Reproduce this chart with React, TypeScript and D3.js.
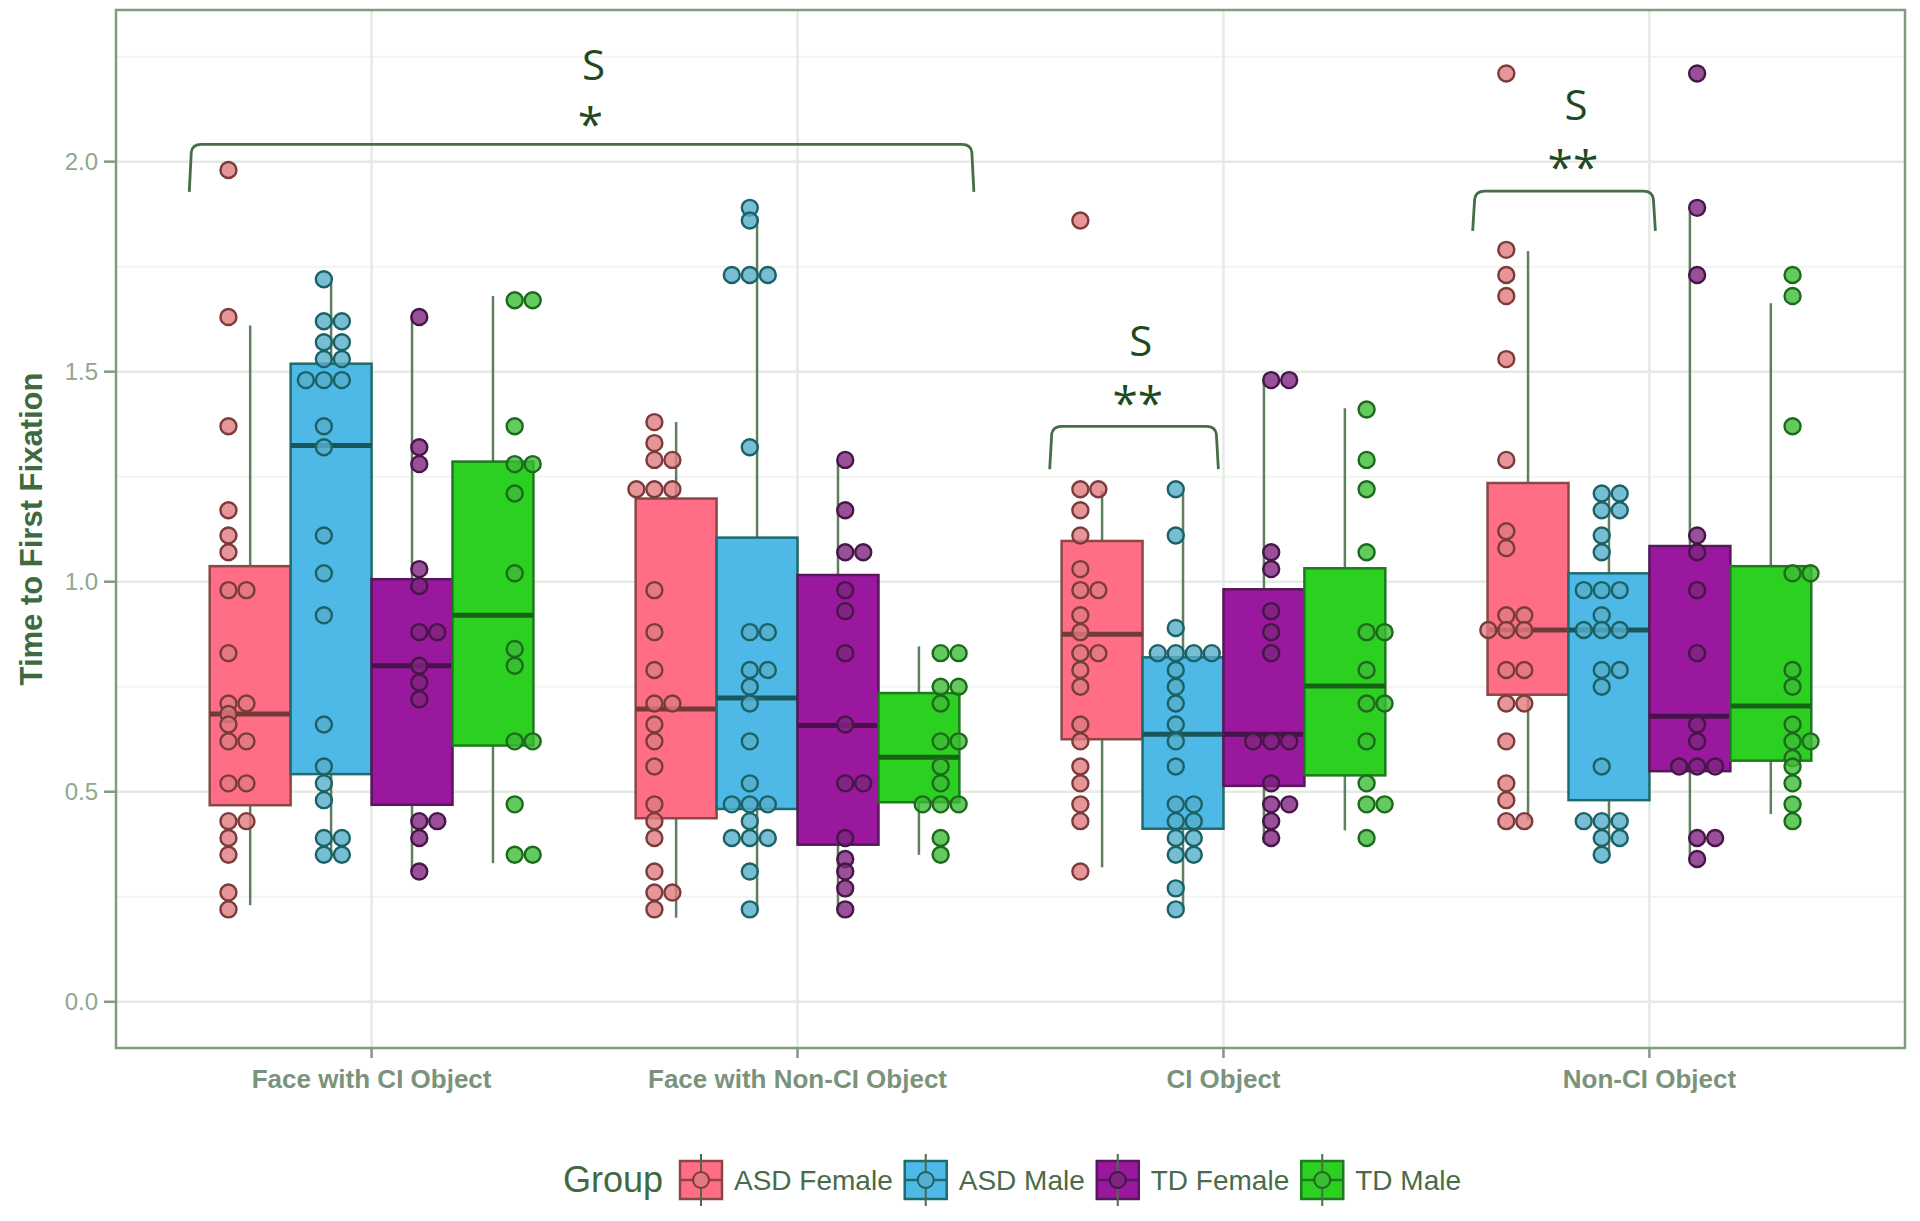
import React, { useEffect, useRef } from "react";
import * as d3 from "d3";

const categories = ["Face with CI Object", "Face with Non-CI Object", "CI Object", "Non-CI Object"];
const groups = ["ASD Female", "ASD Male", "TD Female", "TD Male"];

// individual observations per category (dot plot)
const asdFemaleValues = [
  [1.98, 1.63, 1.37, 1.17, 1.11, 1.07, 0.98, 0.98, 0.83, 0.71, 0.71, 0.685, 0.66, 0.62, 0.62, 0.52, 0.52, 0.43, 0.43, 0.39, 0.35, 0.26, 0.22],
  [1.38, 1.33, 1.29, 1.29, 1.22, 1.22, 1.22, 0.98, 0.88, 0.79, 0.71, 0.71, 0.66, 0.62, 0.56, 0.47, 0.43, 0.39, 0.31, 0.26, 0.26, 0.22],
  [1.86, 1.22, 1.22, 1.17, 1.11, 1.03, 0.98, 0.98, 0.92, 0.88, 0.83, 0.83, 0.79, 0.75, 0.66, 0.62, 0.56, 0.52, 0.47, 0.43, 0.31],
  [2.21, 1.79, 1.73, 1.68, 1.53, 1.29, 1.12, 1.08, 0.92, 0.92, 0.885, 0.885, 0.885, 0.79, 0.79, 0.71, 0.71, 0.62, 0.52, 0.48, 0.43, 0.43],
];
const asdMaleValues = [
  [1.72, 1.62, 1.62, 1.57, 1.57, 1.53, 1.53, 1.48, 1.48, 1.48, 1.37, 1.32, 1.11, 1.02, 0.92, 0.66, 0.56, 0.52, 0.48, 0.39, 0.39, 0.35, 0.35],
  [1.89, 1.86, 1.73, 1.73, 1.73, 1.32, 0.88, 0.88, 0.79, 0.79, 0.75, 0.71, 0.62, 0.52, 0.47, 0.47, 0.47, 0.43, 0.39, 0.39, 0.39, 0.31, 0.22],
  [1.22, 1.11, 0.89, 0.83, 0.83, 0.83, 0.83, 0.79, 0.75, 0.71, 0.66, 0.62, 0.56, 0.47, 0.47, 0.43, 0.43, 0.39, 0.39, 0.35, 0.35, 0.27, 0.22],
  [1.21, 1.21, 1.17, 1.17, 1.11, 1.07, 0.98, 0.98, 0.98, 0.92, 0.885, 0.885, 0.885, 0.79, 0.79, 0.75, 0.56, 0.43, 0.43, 0.43, 0.39, 0.39, 0.35],
];
const tdFemaleValues = [
  [1.63, 1.32, 1.28, 1.03, 0.99, 0.88, 0.88, 0.8, 0.76, 0.72, 0.43, 0.43, 0.39, 0.31],
  [1.29, 1.17, 1.07, 1.07, 0.98, 0.93, 0.83, 0.66, 0.52, 0.52, 0.39, 0.34, 0.31, 0.27, 0.22],
  [1.48, 1.48, 1.07, 1.03, 0.93, 0.88, 0.83, 0.62, 0.62, 0.62, 0.52, 0.47, 0.47, 0.43, 0.39],
  [2.21, 1.89, 1.73, 1.11, 1.07, 0.98, 0.83, 0.66, 0.62, 0.56, 0.56, 0.56, 0.39, 0.39, 0.34],
];
const tdMaleValues = [
  [1.67, 1.67, 1.37, 1.28, 1.28, 1.21, 1.02, 0.84, 0.8, 0.62, 0.62, 0.47, 0.35, 0.35],
  [0.83, 0.83, 0.75, 0.75, 0.71, 0.62, 0.62, 0.56, 0.52, 0.47, 0.47, 0.47, 0.39, 0.35],
  [1.41, 1.29, 1.22, 1.07, 0.88, 0.88, 0.79, 0.71, 0.71, 0.62, 0.52, 0.47, 0.47, 0.39],
  [1.73, 1.68, 1.37, 1.02, 1.02, 0.79, 0.75, 0.66, 0.62, 0.62, 0.58, 0.56, 0.52, 0.47, 0.43],
];

// box statistics per category: [lower whisker, q1, median, q3, upper whisker]
const asdFemaleStats = [
  [0.23, 0.468, 0.685, 1.037, 1.61],
  [0.2, 0.437, 0.697, 1.198, 1.38],
  [0.32, 0.625, 0.875, 1.097, 1.216],
  [0.433, 0.731, 0.885, 1.235, 1.787],
];
const asdMaleStats = [
  [0.35, 0.542, 1.324, 1.519, 1.71],
  [0.22, 0.459, 0.723, 1.105, 1.87],
  [0.22, 0.412, 0.637, 0.82, 1.21],
  [0.35, 0.48, 0.885, 1.02, 1.21],
];
const tdFemaleStats = [
  [0.31, 0.469, 0.8, 1.006, 1.63],
  [0.22, 0.374, 0.658, 1.016, 1.285],
  [0.378, 0.514, 0.637, 0.982, 1.48],
  [0.344, 0.549, 0.68, 1.085, 1.88],
];
const tdMaleStats = [
  [0.33, 0.61, 0.92, 1.286, 1.68],
  [0.35, 0.475, 0.582, 0.735, 0.846],
  [0.408, 0.539, 0.752, 1.032, 1.413],
  [0.447, 0.574, 0.704, 1.037, 1.663],
];

const yTicks = [0, 0.5, 1.0, 1.5, 2.0];
const yMinorTicks = [0.25, 0.75, 1.25, 1.75, 2.25];

// significance brackets: start category, start offset, end category, end offset, top value, leg value, stars
const bracketStart = [0, 2, 3];
const bracketStartOffset = [-0.428, -0.408, -0.415];
const bracketEnd = [1, 2, 3];
const bracketEndOffset = [0.414, -0.012, 0.014];
const bracketTop = [2.041, 1.37, 1.93];
const bracketLeg = [1.928, 1.268, 1.835];
const bracketStars = ["*", "**", "**"];
const bracketSLabelY = [2.194, 1.537, 2.099];
const bracketStarY = [2.106, 1.442, 2.003];
const bracketLabelShift = [0.028, 0.016, 0.028];

const fills = ["#FF6E86", "#4EB8E6", "#9A189E", "#2CD020"];
const strokes = ["#8A4845", "#1F6B6D", "#55185A", "#1E7A1E"];
const dotFills = ["#E07A80", "#55AECB", "#7E2580", "#3DBB36"];
const dotStrokes = ["#7A3B3B", "#1B6266", "#461648", "#1C6A1C"];

const valuesByGroup = [asdFemaleValues, asdMaleValues, tdFemaleValues, tdMaleValues];
const statsByGroup = [asdFemaleStats, asdMaleStats, tdFemaleStats, tdMaleStats];

export default function App() {
  const ref = useRef<SVGSVGElement | null>(null);

  useEffect(() => {
    const svg = d3.select(ref.current);
    svg.selectAll("*").remove();

    const left = 116, right = 1905, top = 10, bottom = 1048;
    const x = d3.scalePoint<string>().domain(categories).range([left, right]).padding(0.6);
    const step = x.step();
    const y = d3.scaleLinear().domain([-0.11, 2.361]).range([bottom, top]);

    const boxW = 0.19 * step;
    const dotDodge = 0.224 * step;
    const dotR = 8;
    const dotD = 18;

    const gridG = svg.append("g");
    yMinorTicks.forEach((t) => {
      gridG.append("line").attr("x1", left).attr("x2", right).attr("y1", y(t)).attr("y2", y(t))
        .attr("stroke", "#f1f4f1").attr("stroke-width", 2);
    });
    yTicks.forEach((t) => {
      gridG.append("line").attr("x1", left).attr("x2", right).attr("y1", y(t)).attr("y2", y(t))
        .attr("stroke", "#e5eae5").attr("stroke-width", 2.5);
    });
    categories.forEach((c) => {
      gridG.append("line").attr("x1", x(c)!).attr("x2", x(c)!).attr("y1", top).attr("y2", bottom)
        .attr("stroke", "#e5eae5").attr("stroke-width", 2.5);
    });

    const plotG = svg.append("g");
    categories.forEach((c, ci) => {
      const cx = x(c)!;
      groups.forEach((g, gi) => {
        const [lo, q1, med, q3, hi] = statsByGroup[gi][ci];
        const bx = cx + (gi - 1.5) * boxW;
        plotG.append("line").attr("x1", bx).attr("x2", bx).attr("y1", y(hi)).attr("y2", y(q3))
          .attr("stroke", "#5f805f").attr("stroke-width", 2.5);
        plotG.append("line").attr("x1", bx).attr("x2", bx).attr("y1", y(q1)).attr("y2", y(lo))
          .attr("stroke", "#5f805f").attr("stroke-width", 2.5);
        plotG.append("rect").attr("x", bx - boxW / 2).attr("width", boxW)
          .attr("y", y(q3)).attr("height", y(q1) - y(q3))
          .attr("fill", fills[gi]).attr("stroke", strokes[gi]).attr("stroke-width", 2.5);
        plotG.append("line").attr("x1", bx - boxW / 2).attr("x2", bx + boxW / 2)
          .attr("y1", y(med)).attr("y2", y(med))
          .attr("stroke", d3.color(strokes[gi])!.darker(0.6).formatHex()).attr("stroke-width", 5);
      });
    });

    const dotG = svg.append("g");
    categories.forEach((c, ci) => {
      const cx = x(c)!;
      groups.forEach((g, gi) => {
        const colX = cx + (gi - 1.5) * dotDodge;
        const vals = valuesByGroup[gi][ci];
        const bins = d3.group(vals, (v) => v.toFixed(3));
        bins.forEach((arr) => {
          const n = arr.length;
          const shift = Math.floor((n - 1) / 2);
          arr.forEach((v, k) => {
            dotG.append("circle")
              .attr("cx", colX + (k - shift) * dotD)
              .attr("cy", y(v))
              .attr("r", dotR)
              .attr("fill", dotFills[gi])
              .attr("fill-opacity", 0.8)
              .attr("stroke", dotStrokes[gi])
              .attr("stroke-width", 2.4);
          });
        });
      });
    });

    // brackets
    const annG = svg.append("g");
    bracketStart.forEach((s, i) => {
      const x0 = x(categories[s])! + bracketStartOffset[i] * step;
      const x1 = x(categories[bracketEnd[i]])! + bracketEndOffset[i] * step;
      const yt = y(bracketTop[i]);
      const yl = y(bracketLeg[i]);
      const p = d3.path();
      p.moveTo(x0, yl);
      p.lineTo(x0 + 2, yt + 8);
      p.quadraticCurveTo(x0 + 3, yt, x0 + 12, yt);
      p.lineTo(x1 - 12, yt);
      p.quadraticCurveTo(x1 - 3, yt, x1 - 2, yt + 8);
      p.lineTo(x1, yl);
      annG.append("path").attr("d", p.toString()).attr("fill", "none")
        .attr("stroke", "#466e46").attr("stroke-width", 2.8);
      const mx = (x0 + x1) / 2 + bracketLabelShift[i] * step;
      annG.append("text").attr("x", mx).attr("y", y(bracketSLabelY[i]))
        .attr("text-anchor", "middle").attr("font-family", "'Open Sans', sans-serif")
        .attr("font-size", 42).attr("fill", "#1f4a1f").text("S");
      annG.append("text").attr("x", mx - 3).attr("y", y(bracketStarY[i]) + 24)
        .attr("text-anchor", "middle").attr("font-family", "'Open Sans', sans-serif")
        .attr("font-size", 46).attr("fill", "#1f4a1f").text(bracketStars[i]);
    });

    // panel border
    svg.append("rect").attr("x", left).attr("y", top).attr("width", right - left).attr("height", bottom - top)
      .attr("fill", "none").attr("stroke", "#7f9c7f").attr("stroke-width", 2.5);

    // axes
    const axG = svg.append("g");
    yTicks.forEach((t) => {
      axG.append("line").attr("x1", left - 12).attr("x2", left).attr("y1", y(t)).attr("y2", y(t))
        .attr("stroke", "#7f9c7f").attr("stroke-width", 2.5);
      axG.append("text").attr("x", left - 18).attr("y", y(t) + 8.5).attr("text-anchor", "end")
        .attr("font-family", "'Liberation Sans', Arial, sans-serif").attr("font-size", 24)
        .attr("fill", "#8ea78e").text(t.toFixed(1));
    });
    categories.forEach((c) => {
      axG.append("line").attr("x1", x(c)!).attr("x2", x(c)!).attr("y1", bottom).attr("y2", bottom + 10)
        .attr("stroke", "#7f9c7f").attr("stroke-width", 2.5);
      axG.append("text").attr("x", x(c)!).attr("y", 1088).attr("text-anchor", "middle")
        .attr("font-family", "'Liberation Sans', Arial, sans-serif").attr("font-size", 26)
        .attr("font-weight", "bold").attr("fill", "#7a937a").text(c);
    });
    axG.append("text").attr("transform", "translate(42,529) rotate(-90)").attr("text-anchor", "middle")
      .attr("font-family", "'Liberation Sans', Arial, sans-serif").attr("font-size", 31)
      .attr("font-weight", "bold").attr("fill", "#3f6a3f").text("Time to First Fixation");

    // legend
    const legG = svg.append("g");
    const ly = 1180;
    legG.append("text").attr("x", 563).attr("y", ly + 12)
      .attr("font-family", "'Liberation Sans', Arial, sans-serif").attr("font-size", 36)
      .attr("fill", "#3f6a3f").text("Group");
    let lx = 680;
    groups.forEach((g, gi) => {
      const kw = 42, kh = 38;
      legG.append("rect").attr("x", lx).attr("y", ly - kh / 2).attr("width", kw).attr("height", kh)
        .attr("fill", fills[gi]).attr("stroke", strokes[gi]).attr("stroke-width", 2.5);
      legG.append("line").attr("x1", lx + kw / 2).attr("x2", lx + kw / 2).attr("y1", ly - kh / 2 - 7).attr("y2", ly + kh / 2 + 7)
        .attr("stroke", "#4a6a4a").attr("stroke-width", 2);
      legG.append("line").attr("x1", lx).attr("x2", lx + kw).attr("y1", ly).attr("y2", ly)
        .attr("stroke", strokes[gi]).attr("stroke-width", 2.5);
      legG.append("circle").attr("cx", lx + kw / 2).attr("cy", ly).attr("r", 8)
        .attr("fill", dotFills[gi]).attr("stroke", dotStrokes[gi]).attr("stroke-width", 2);
      const t = legG.append("text").attr("x", lx + kw + 12).attr("y", ly + 10)
        .attr("font-family", "'Liberation Sans', Arial, sans-serif").attr("font-size", 28)
        .attr("fill", "#4a6b4a").text(g);
      const tw = (t.node() as SVGTextElement).getComputedTextLength();
      lx = lx + kw + 12 + tw + 12;
    });
  }, []);

  return (
    <svg ref={ref} width={1920} height={1221}
      style={{ position: "absolute", left: 0, top: 0, background: "#ffffff" }} />
  );
}
